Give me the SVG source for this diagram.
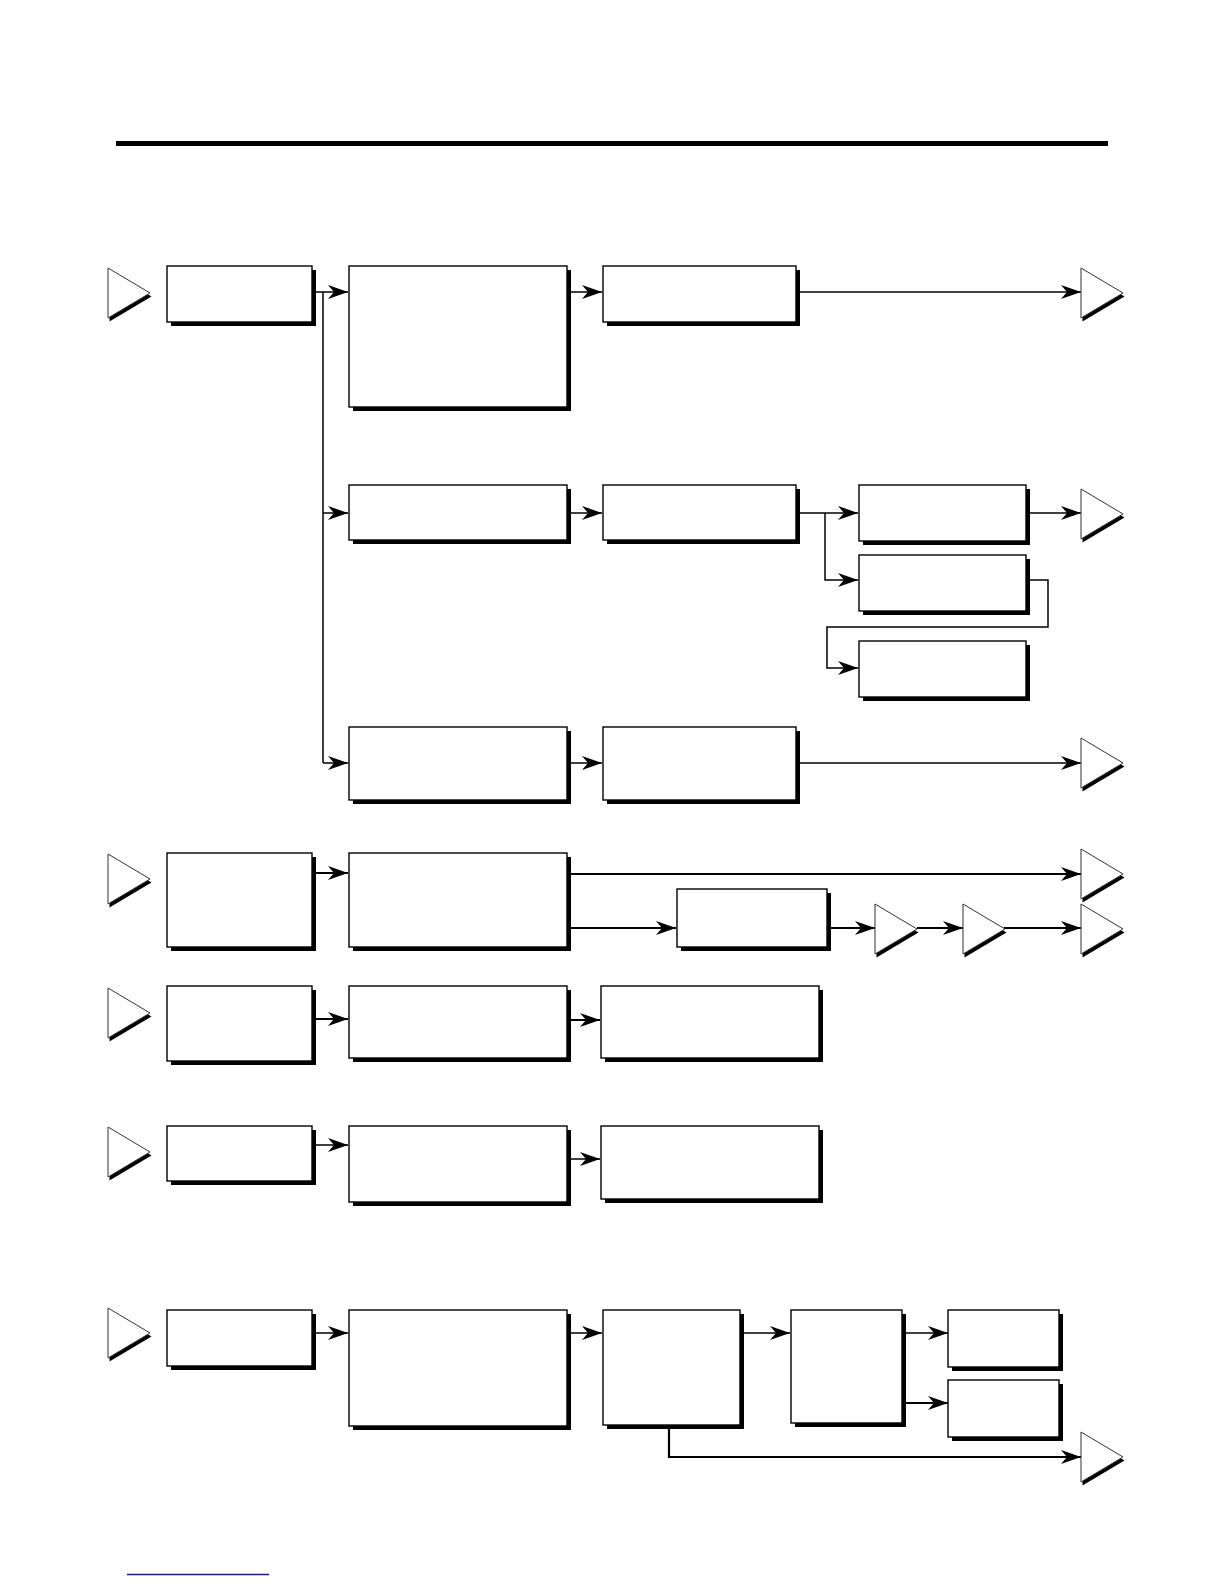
<svg xmlns="http://www.w3.org/2000/svg" width="1224" height="1584" viewBox="0 0 1224 1584">
<style>
.box{fill:#fff;stroke:#000;stroke-width:1.4}
.sh{fill:#000}
.tri{fill:#fff;stroke:#333;stroke-width:1}
.trish{fill:#000}
.c{fill:none;stroke:#000;stroke-width:1.5}
.ca{fill:none;stroke:#000;stroke-width:1.5;marker-end:url(#ah)}
.ct{stroke-width:2.2}
</style>
<defs>
<marker id="ah" markerUnits="userSpaceOnUse" markerWidth="24" markerHeight="18" viewBox="-21 -9 22 18" refX="0" refY="0" orient="auto">
<path d="M-20,-7 L0,0 L-20,7 L-14,0 Z" fill="#000"/>
</marker>
<symbol id="t" overflow="visible">
<polygon class="trish" points="1.5,3.5 43.5,28.5 1.5,53.5"/>
<polygon class="tri" points="0,0 42,25 0,50"/>
</symbol>
</defs>
<rect x="116" y="141" width="992" height="5" fill="#000"/>
<line x1="127" y1="1574.5" x2="269" y2="1574.5" stroke="#1a1a8a" stroke-width="1.5"/>

<g id="connectors">
<path class="ca" d="M312,292 H348"/>
<path class="c" d="M323,292 V763"/>
<path class="ca" d="M323,513 H348"/>
<path class="ca" d="M323,763 H348"/>
<path class="ca" d="M567,292 H602"/>
<path class="ca" d="M796,292 H1081"/>
<path class="ca" d="M567,513 H602"/>
<path class="ca" d="M796,513 H858"/>
<path class="ca" d="M825,513 V580 H858"/>
<path class="ca" d="M1026,513 H1081"/>
<path class="ca" d="M1026,580 H1048 V627 H827 V668 H858"/>
<path class="ca" d="M567,763 H602"/>
<path class="ca" d="M796,763 H1081"/>
<path class="ca ct" d="M312,873 H348"/>
<path class="ca ct" d="M567,874 H1081"/>
<path class="ca ct" d="M567,928 H676"/>
<path class="ca ct" d="M827,928 H875"/>
<path class="ca ct" d="M917,928 H963"/>
<path class="ca ct" d="M1004,928 H1081"/>
<path class="ca ct" d="M312,1019 H348"/>
<path class="ca ct" d="M567,1020 H600"/>
<path class="ca" d="M312,1145 H348"/>
<path class="ca" d="M567,1159 H600"/>
<path class="ca" d="M312,1333 H348"/>
<path class="ca" d="M567,1333 H602"/>
<path class="ca" d="M740,1333 H790"/>
<path class="ca" d="M901,1333 H948"/>
<path class="ca ct" d="M901,1403 H948"/>
<path class="ca ct" d="M669,1425 V1457 H1081"/>
</g>

<g id="tri-in1"><use href="#t" x="108" y="268"/></g>
<g id="tri-out1"><use href="#t" x="1081" y="268"/></g>
<g id="tri-out2"><use href="#t" x="1081" y="489"/></g>
<g id="tri-out3"><use href="#t" x="1081" y="738"/></g>
<g id="tri-in2"><use href="#t" x="108" y="854"/></g>
<g id="tri-out4"><use href="#t" x="1081" y="849"/></g>
<g id="tri-m1"><use href="#t" x="875" y="904"/></g>
<g id="tri-m2"><use href="#t" x="963" y="904"/></g>
<g id="tri-out5"><use href="#t" x="1081" y="904"/></g>
<g id="tri-in3"><use href="#t" x="108" y="988"/></g>
<g id="tri-in4"><use href="#t" x="108" y="1127"/></g>
<g id="tri-in5"><use href="#t" x="108" y="1308"/></g>
<g id="tri-out6"><use href="#t" x="1081" y="1432"/></g>

<g id="A"><rect class="sh" x="171" y="270" width="145" height="56"/><rect class="box" x="167" y="266" width="145" height="56"/></g>
<g id="B"><rect class="sh" x="353" y="270" width="218" height="141"/><rect class="box" x="349" y="266" width="218" height="141"/></g>
<g id="C"><rect class="sh" x="607" y="270" width="193" height="56"/><rect class="box" x="603" y="266" width="193" height="56"/></g>
<g id="D"><rect class="sh" x="353" y="489" width="218" height="55"/><rect class="box" x="349" y="485" width="218" height="55"/></g>
<g id="E"><rect class="sh" x="607" y="489" width="193" height="55"/><rect class="box" x="603" y="485" width="193" height="55"/></g>
<g id="F"><rect class="sh" x="863" y="489" width="167" height="56"/><rect class="box" x="859" y="485" width="167" height="56"/></g>
<g id="G"><rect class="sh" x="863" y="559" width="167" height="56"/><rect class="box" x="859" y="555" width="167" height="56"/></g>
<g id="H"><rect class="sh" x="863" y="645" width="167" height="56"/><rect class="box" x="859" y="641" width="167" height="56"/></g>
<g id="I"><rect class="sh" x="353" y="731" width="218" height="73"/><rect class="box" x="349" y="727" width="218" height="73"/></g>
<g id="J"><rect class="sh" x="607" y="731" width="193" height="73"/><rect class="box" x="603" y="727" width="193" height="73"/></g>
<g id="K"><rect class="sh" x="171" y="857" width="145" height="94"/><rect class="box" x="167" y="853" width="145" height="94"/></g>
<g id="L"><rect class="sh" x="353" y="857" width="218" height="94"/><rect class="box" x="349" y="853" width="218" height="94"/></g>
<g id="M"><rect class="sh" x="681" y="893" width="150" height="58"/><rect class="box" x="677" y="889" width="150" height="58"/></g>
<g id="N"><rect class="sh" x="171" y="990" width="145" height="75"/><rect class="box" x="167" y="986" width="145" height="75"/></g>
<g id="O"><rect class="sh" x="353" y="990" width="218" height="72"/><rect class="box" x="349" y="986" width="218" height="72"/></g>
<g id="P"><rect class="sh" x="605" y="990" width="218" height="72"/><rect class="box" x="601" y="986" width="218" height="72"/></g>
<g id="Q"><rect class="sh" x="171" y="1130" width="145" height="55"/><rect class="box" x="167" y="1126" width="145" height="55"/></g>
<g id="R"><rect class="sh" x="353" y="1130" width="218" height="76"/><rect class="box" x="349" y="1126" width="218" height="76"/></g>
<g id="S"><rect class="sh" x="605" y="1130" width="218" height="73"/><rect class="box" x="601" y="1126" width="218" height="73"/></g>
<g id="T"><rect class="sh" x="171" y="1314" width="145" height="56"/><rect class="box" x="167" y="1310" width="145" height="56"/></g>
<g id="U"><rect class="sh" x="353" y="1314" width="218" height="116"/><rect class="box" x="349" y="1310" width="218" height="116"/></g>
<g id="V"><rect class="sh" x="607" y="1314" width="137" height="115"/><rect class="box" x="603" y="1310" width="137" height="115"/></g>
<g id="W"><rect class="sh" x="795" y="1314" width="111" height="113"/><rect class="box" x="791" y="1310" width="111" height="113"/></g>
<g id="X"><rect class="sh" x="952" y="1314" width="111" height="57"/><rect class="box" x="948" y="1310" width="111" height="57"/></g>
<g id="Y"><rect class="sh" x="952" y="1384" width="111" height="57"/><rect class="box" x="948" y="1380" width="111" height="57"/></g>
</svg>
